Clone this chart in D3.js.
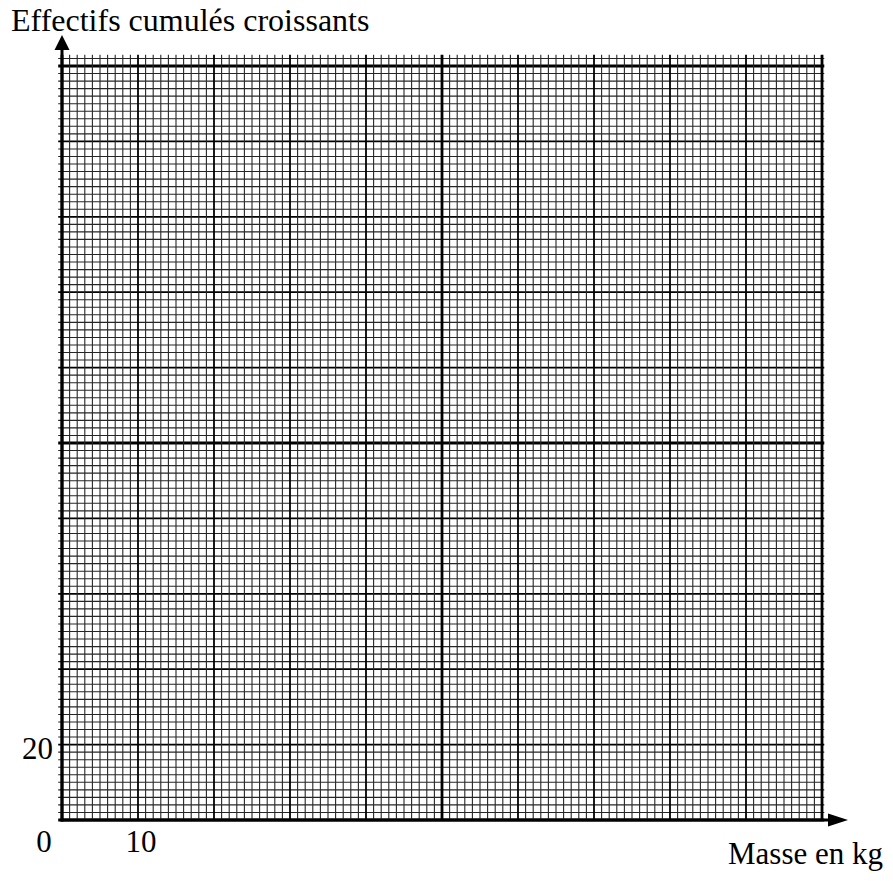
<!DOCTYPE html>
<html>
<head>
<meta charset="utf-8">
<title>Effectifs cumulés croissants</title>
<style>
  body { margin: 0; background: #fff; }
  svg { display: block; }
  text { font-family: "Liberation Serif", "Times New Roman", serif; fill: #000; }
</style>
</head>
<body>
<svg id="svg"></svg>
<script src="https://d3js.org/d3.v7.min.js"></script>
<script>
// graduations of the axes
const xDomain = [0, 100];
const yDomain = [0, 200];
const xMinorStep = 1, xMajorStep = 10, xHeavyStep = 50;
const yMinorStep = 2, yMajorStep = 20, yHeavyStep = 100;
const xTickValues = [10];
const xTickLabels = ["10"];
const yTickValues = [20];
const yTickLabels = ["20"];
const originLabel = "0";
const yTitle = "Effectifs cumulés croissants";
const xTitle = "Masse en kg";

const W = 893, H = 881;
const svg = d3.select("#svg").attr("width", W).attr("height", H);

const x = d3.scaleLinear(xDomain, [62, 822]);
const y = d3.scaleLinear(yDomain, [820, 66]);

// the paper goes a little past the last graduations
const yPaperTop = 203, xPaperLeft = -0.5, xPaperRight = 100.3;

function weight(v, minor, major, heavy) {
    if (v % heavy === 0) return {w: 2.8, c: "#000"};
    if (v % major === 0) return {w: 1.8, c: "#000"};
    return {w: 1.1, c: "#262626"};
}

const grid = svg.append("g");

// horizontal lines (minor first so heavier ones sit on top)
const hLines = d3.range(yDomain[0], yDomain[1] + yMinorStep + 0.1, yMinorStep)
    .map(v => Object.assign({v: v}, weight(v, yMinorStep, yMajorStep, yHeavyStep)))
    .sort((a, b) => a.w - b.w);
grid.selectAll("line.h").data(hLines).join("line")
    .attr("class", "h")
    .attr("x1", x(xPaperLeft)).attr("x2", x(xPaperRight))
    .attr("y1", d => y(d.v)).attr("y2", d => y(d.v))
    .attr("stroke", d => d.c)
    .attr("stroke-width", d => d.w);

const vLines = d3.range(xDomain[0], xDomain[1] + 0.1, xMinorStep)
    .map(v => Object.assign({v: v}, weight(v, xMinorStep, xMajorStep, xHeavyStep)))
    .sort((a, b) => a.w - b.w);
grid.selectAll("line.v").data(vLines).join("line")
    .attr("class", "v")
    .attr("y1", y(0)).attr("y2", y(yPaperTop))
    .attr("x1", d => x(d.v)).attr("x2", d => x(d.v))
    .attr("stroke", d => d.c)
    .attr("stroke-width", d => d.w);

// axes with arrows
const axes = svg.append("g");
axes.append("line")
    .attr("x1", x(0)).attr("x2", x(0))
    .attr("y1", y(0) + 1.5).attr("y2", 48)
    .attr("stroke", "#000").attr("stroke-width", 3);
axes.append("path")
    .attr("d", `M${x(0)},35 L${x(0) - 7.5},50 L${x(0) + 7.5},50 Z`)
    .attr("fill", "#000");
axes.append("line")
    .attr("x1", x(0) - 1.5).attr("x2", 830)
    .attr("y1", y(0)).attr("y2", y(0))
    .attr("stroke", "#000").attr("stroke-width", 3);
axes.append("path")
    .attr("d", `M848,${y(0)} L828,${y(0) - 6.5} L828,${y(0) + 6.5} Z`)
    .attr("fill", "#000");

// tick labels
svg.append("text")
    .attr("x", 44).attr("y", 852)
    .attr("text-anchor", "middle")
    .style("font-size", "31px")
    .text(originLabel);
svg.selectAll("text.xt").data(xTickValues).join("text")
    .attr("class", "xt")
    .attr("x", d => x(d) + 3).attr("y", 852)
    .attr("text-anchor", "middle")
    .style("font-size", "31px")
    .text((d, i) => xTickLabels[i]);
svg.selectAll("text.yt").data(yTickValues).join("text")
    .attr("class", "yt")
    .attr("x", 53).attr("y", d => y(d) + 14)
    .attr("text-anchor", "end")
    .style("font-size", "31px")
    .text((d, i) => yTickLabels[i]);

// axis titles
svg.append("text")
    .attr("x", 11).attr("y", 31)
    .style("font-size", "32px")
    .text(yTitle);
svg.append("text")
    .attr("x", 728).attr("y", 864)
    .style("font-size", "31px")
    .text(xTitle);
</script>
</body>
</html>
